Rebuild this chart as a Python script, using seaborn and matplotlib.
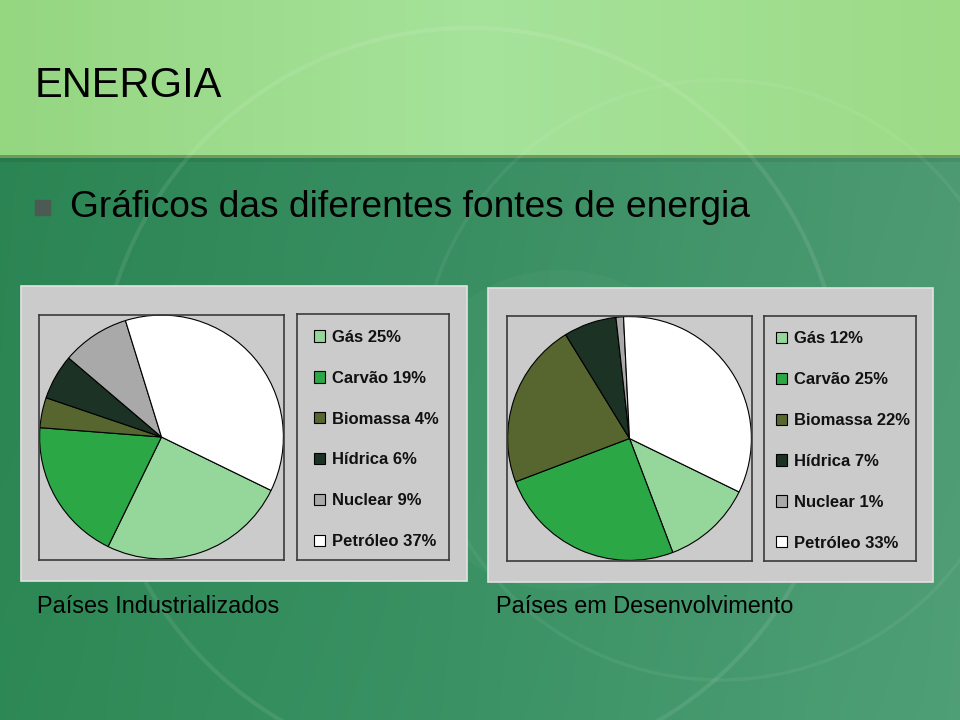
import numpy as np
import matplotlib
matplotlib.use("Agg")
import matplotlib.pyplot as plt
import seaborn as sns
from matplotlib.patches import Rectangle, Circle

# ---------------- data ----------------
categorias = ["Gás", "Carvão", "Biomassa", "Hídrica", "Nuclear", "Petróleo"]
industrializados = [25, 19, 4, 6, 9, 37]
desenvolvimento = [12, 25, 22, 7, 1, 33]
cores = ["#95D69A", "#2BA845", "#57662F", "#1B3224", "#A9A9A9", "#FFFFFF"]
titulo = "ENERGIA"
subtitulo = "Gráficos das diferentes fontes de energia"
rotulos = ["Países Industrializados", "Países em Desenvolvimento"]

sns.set_theme(style="white")
plt.rcParams['font.family'] = ['Liberation Sans', 'DejaVu Sans']
paleta = sns.color_palette(cores)

W, H = 960, 720
fig = plt.figure(figsize=(9.6, 7.2), dpi=100)

# ---------------- slide background ----------------
bg = fig.add_axes([0, 0, 1, 1])
xs = np.linspace(0, 1, W)[None, :, None]
ys = np.linspace(0, 1, H)[:, None, None]

def hx(c):
    c = c.lstrip('#')
    return np.array([int(c[i:i + 2], 16) / 255 for i in (0, 2, 4)])

top_l, top_m, top_r = hx("#95D681"), hx("#A6E39B"), hx("#9DDB87")
bot_l, bot_m, bot_r = hx("#2C8654"), hx("#3A9063"), hx("#4E9C74")

def horiz(l, m, r):
    a = np.clip(xs * 2, 0, 1)
    b = np.clip(xs * 2 - 1, 0, 1)
    return np.where(xs < 0.5, l * (1 - a) + m * a, m * (1 - b) + r * b)

img = np.zeros((H, W, 3))
top = horiz(top_l, top_m, top_r)
bot = horiz(bot_l, bot_m, bot_r)
img[:] = bot * (1 + 0.04 * (ys - 0.5))
img[:155] = np.broadcast_to(top, (1, W, 3))
img[155:158] = hx("#6F9A58")
img[158:162] = (img[158:162] * 0.92)
img = np.clip(img, 0, 1)
bg.imshow(img, extent=(0, W, H, 0), aspect='auto', zorder=0)
bg.set_xlim(0, W)
bg.set_ylim(H, 0)
bg.axis('off')

# faint decorative arcs
bg.add_patch(Circle((470, 400), 372, fill=False, ec='white', lw=3, alpha=0.09, zorder=1))
bg.add_patch(Circle((720, 380), 300, fill=False, ec='white', lw=2.5, alpha=0.06, zorder=1))
bg.add_patch(Circle((560, 430), 160, fill=True, fc='white', ec='none', alpha=0.03, zorder=1))

# texts
bg.text(35, 97, titulo, fontsize=30, color='black', va='baseline', ha='left', zorder=3)
bg.add_patch(Rectangle((35, 200), 15, 15, color='#4B5A52', zorder=3))
bg.text(70, 217, subtitulo, fontsize=26.7, color='black', va='baseline', ha='left', zorder=3)
bg.text(37, 613, rotulos[0], fontsize=16.9, color='black', va='baseline', ha='left', zorder=3)
bg.text(496, 613, rotulos[1], fontsize=16.9, color='black', va='baseline', ha='left', zorder=3)

# gray panels
CINZA = '#CBCBCB'
bg.add_patch(Rectangle((21, 286), 446, 295, fc=CINZA, ec='#E2E2E2', lw=1.2, zorder=2))
bg.add_patch(Rectangle((488, 288), 445, 294, fc=CINZA, ec='#E2E2E2', lw=1.2, zorder=2))


def fig_axes(x0, y0, x1, y1):
    return fig.add_axes([x0 / W, 1 - y1 / H, (x1 - x0) / W, (y1 - y0) / H])


def desenhar(valores, caixa_pizza, caixa_leg, marcador_dx):
    ax = fig_axes(*caixa_pizza)
    ax.set_facecolor(CINZA)
    wedges, _ = ax.pie(valores, colors=paleta, startangle=-26, counterclock=False,
                       radius=1.0, wedgeprops=dict(edgecolor='black', linewidth=0.8))
    ax.set_frame_on(True)
    ax.set_xlim(-1.005, 1.005)
    ax.set_ylim(-1.005, 1.005)
    ax.set_xticks([])
    ax.set_yticks([])
    for s in ax.spines.values():
        s.set_color('#3A3A3A')
        s.set_linewidth(1.2)

    lax = fig_axes(*caixa_leg)
    lax.set_facecolor(CINZA)
    lax.set_xticks([])
    lax.set_yticks([])
    for s in lax.spines.values():
        s.set_color('#3A3A3A')
        s.set_linewidth(1.2)
    largura = caixa_leg[2] - caixa_leg[0]
    altura = caixa_leg[3] - caixa_leg[1]
    labels = [f"{c} {v}%" for c, v in zip(categorias, valores)]
    lax.legend(wedges, labels, loc='center left',
               bbox_to_anchor=(marcador_dx / largura, 0.5 - 2.5 / altura),
               frameon=False, prop=dict(size=12, weight='bold'), labelcolor='#111111',
               handlelength=0.68, handleheight=0.68, handletextpad=0.4,
               labelspacing=1.55, borderpad=0, borderaxespad=0)


desenhar(industrializados, (39, 314, 284, 560), (297, 314, 449, 560), 17)
desenhar(desenvolvimento, (507, 316, 752, 561), (764, 316, 916, 561), 12)

fig.savefig("out.png", dpi=100)
